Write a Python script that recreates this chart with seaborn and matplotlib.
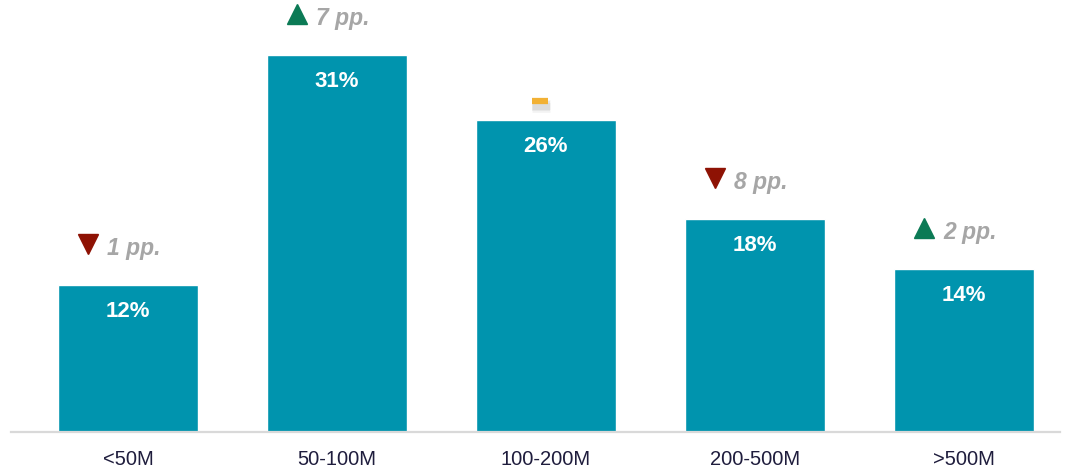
import matplotlib
matplotlib.use("Agg")
import matplotlib.pyplot as plt
import matplotlib.transforms as mtrans
import seaborn as sns
import pandas as pd

categories = ["<50M", "50-100M", "100-200M", "200-500M", ">500M"]
values = [12.1, 31.0, 25.6, 17.5, 13.4]
value_labels = ["12%", "31%", "26%", "18%", "14%"]
change_dir = ["down", "up", "flat", "down", "up"]
change_labels = ["1 pp.", "7 pp.", "", "8 pp.", "2 pp."]

BAR = "#0094AE"
UP = "#0B7A55"
DOWN = "#8E1204"
FLAT = "#F2B134"
GREY = "#A6A6A6"

sns.set_theme(style="white")
plt.rcParams["font.family"] = ["Liberation Sans", "DejaVu Sans"]

df = pd.DataFrame({"cat": categories, "val": values})

fig = plt.figure(figsize=(10.71, 4.72), dpi=100)
ax = fig.add_axes([11 / 1071, 40 / 472, 1049 / 1071, 432 / 472])
sns.barplot(data=df, x="cat", y="val", color=BAR, saturation=1, width=0.67, ax=ax)

ax.set_xlim(-0.56, 4.46)
ax.set_ylim(0, 35.5)
for s in ["top", "right", "left"]:
    ax.spines[s].set_visible(False)
ax.spines["bottom"].set_color("#D9D9D9")
ax.spines["bottom"].set_linewidth(1.6)
ax.set_yticks([])
ax.set_xlabel("")
ax.set_ylabel("")
ax.tick_params(axis="x", length=0, pad=13, labelsize=14.5, labelcolor="#1F1D3D")

for i, (v, lab) in enumerate(zip(values, value_labels)):
    ax.annotate(lab, (i, v), xytext=(0, -19), textcoords="offset points",
                ha="center", va="center", color="white", fontsize=16,
                fontweight="bold")


def shifted(dx_px, dy_px):
    return ax.transData + mtrans.ScaledTranslation(dx_px / 100, dy_px / 100, fig.dpi_scale_trans)


for i, (v, d, t) in enumerate(zip(values, change_dir, change_labels)):
    if d == "flat":
        for k, a in [(0, 0.10), (1, 0.12), (2, 0.10)]:
            ax.plot([i - 0.03], [v], marker="_", markersize=13, mew=5 + 2 * k,
                    color="#8A8A8A", alpha=a, linestyle="none",
                    transform=shifted(1, 14))
        ax.plot([i - 0.03], [v], marker="_", markersize=12, mew=4.5,
                color=FLAT, linestyle="none", transform=shifted(0, 19))
        continue
    marker = "^" if d == "up" else "v"
    col = UP if d == "up" else DOWN
    ax.plot([i - 0.19], [v], marker=marker, markersize=14, color=col,
            linestyle="none", transform=shifted(0, 41))
    ax.annotate(t, (i - 0.10, v), xytext=(0, 26), textcoords="offset points",
                ha="left", va="center", color=GREY, fontsize=16.5,
                fontweight="bold", fontstyle="italic")

fig.savefig("out.png", dpi=100)
